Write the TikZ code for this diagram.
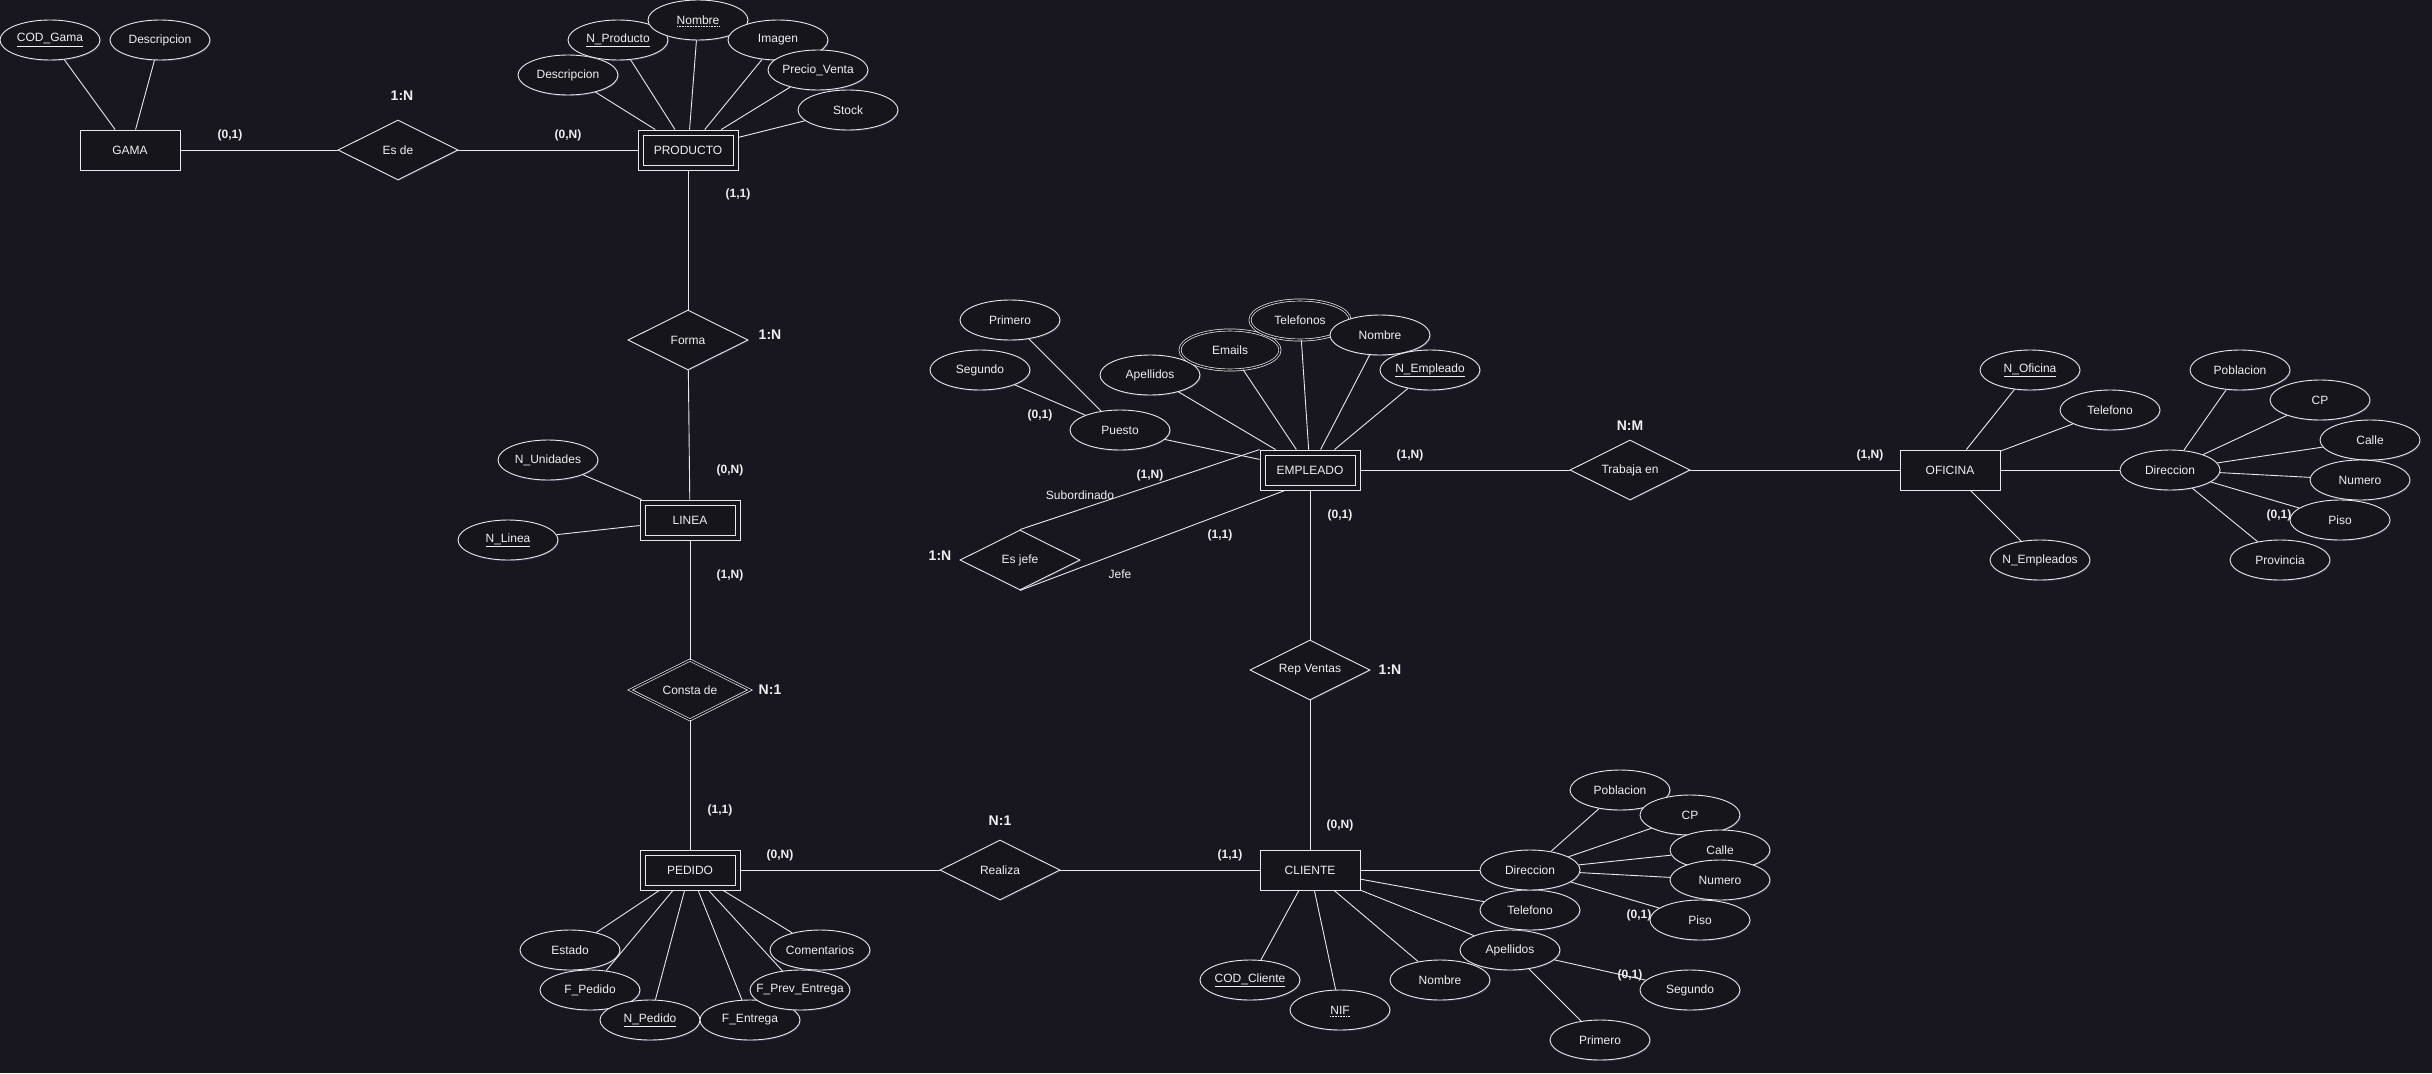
\documentclass[tikz,border=0pt]{standalone}
\usepackage{fontspec}
\setmainfont{Liberation Sans}
\usetikzlibrary{shapes.geometric,calc,shadows}
\definecolor{bgc}{RGB}{24,22,31}
\definecolor{fillc}{RGB}{22,21,27}
\definecolor{linec}{RGB}{232,232,236}
\definecolor{txtc}{RGB}{240,240,240}
\definecolor{glowc}{RGB}{80,76,120}
\newcommand{\mb}[1]{\makebox[0pt]{#1}}
\tikzset{
 base/.style={draw=linec, line width=0.9pt, fill=fillc, text=txtc, font=\fontsize{12}{14}\selectfont, inner sep=0pt,
   drop shadow={opacity=0.45, fill=glowc, shadow xshift=1pt, shadow yshift=-1.2pt}},
 ent/.style={base, rectangle, minimum width=100pt, minimum height=40pt},
 wkent/.style={ent, path picture={\draw[linec, line width=0.9pt] ([shift={(5pt,5pt)}]path picture bounding box.south west) rectangle ([shift={(-5pt,-5pt)}]path picture bounding box.north east);}},
 rel/.style={base, diamond, minimum width=120pt, minimum height=60pt, aspect=2},
 wkrel/.style={rel, double=fillc, double distance=1.4pt, line width=0.7pt},
 attr/.style={base, ellipse, minimum width=100pt, minimum height=40pt},
 mattr/.style={attr, double=fillc, double distance=1.4pt, line width=0.7pt},
 card/.style={text=txtc, font=\bfseries\fontsize{12}{14}\selectfont, inner sep=1pt},
 ratio/.style={text=txtc, font=\bfseries\fontsize{14}{16}\selectfont, inner sep=1pt},
 role/.style={text=txtc, font=\fontsize{12}{14}\selectfont, inner sep=1pt},
 con/.style={draw=linec, line width=0.9pt},
 dotu/.style={draw=txtc, line width=0.8pt, dash pattern=on 0.8pt off 0.8pt},
}
\begin{document}
\begin{tikzpicture}[x=1pt, y=-1pt]
\fill[bgc] (0,0) rectangle (2432,1073);
\useasboundingbox (0,0) rectangle (2432,1073);

% ---------- GAMA ----------
\node[ent] (gama) at (130,150) {GAMA};
\node[attr] (gcod) at (50,40) {\mb{\underline{COD\_Gama}}};
\node[attr] (gdesc) at (160,40) {\mb{Descripcion}};
\node[rel] (esde) at (398,150) {Es de};

% ---------- PRODUCTO ----------
\node[wkent] (producto) at (688,150) {PRODUCTO};
\node[attr] (pdesc) at (568,75) {\mb{Descripcion}};
\node[attr] (pnum) at (618,40) {\mb{\underline{N\_Producto}}};
\node[attr] (pnom) at (698,20) {\mb{Nombre}};
\draw[dotu] ([shift={(-21pt,-6.5pt)}]pnom.center) -- ([shift={(21pt,-6.5pt)}]pnom.center);
\node[attr] (pimg) at (778,40) {\mb{Imagen}};
\node[attr] (pprecio) at (818,70) {\mb{Precio\_Venta}};
\node[attr] (pstock) at (848,110) {\mb{Stock}};

% ---------- LINEA ----------
\node[rel] (forma) at (688,340) {Forma};
\node[wkent] (linea) at (690,520) {LINEA};
\node[attr] (lunid) at (548,460) {\mb{N\_Unidades}};
\node[attr] (lnum) at (508,540) {\mb{\underline{N\_Linea}}};
\node[wkrel] (consta) at (690,690) {Consta de};

% ---------- PEDIDO ----------
\node[wkent] (pedido) at (690,870) {PEDIDO};
\node[attr] (estado) at (570,950) {\mb{Estado}};
\node[attr] (fped) at (590,990) {\mb{F\_Pedido}};
\node[attr] (nped) at (650,1020) {\mb{\underline{N\_Pedido}}};
\node[attr] (fent) at (750,1020) {\mb{F\_Entrega}};
\node[attr] (fprev) at (800,990) {\mb{F\_Prev\_Entrega}};
\node[attr] (coment) at (820,950) {\mb{Comentarios}};
\node[rel] (realiza) at (1000,870) {Realiza};

% ---------- CLIENTE ----------
\node[ent] (cliente) at (1310,870) {CLIENTE};
\node[attr] (ccod) at (1250,980) {\mb{\underline{COD\_Cliente}}};
\node[attr] (cnif) at (1340,1010) {\mb{NIF}};
\draw[dotu] ([shift={(-10pt,-6.5pt)}]cnif.center) -- ([shift={(10pt,-6.5pt)}]cnif.center);
\node[attr] (cnom) at (1440,980) {\mb{Nombre}};
\node[attr] (cpri) at (1600,1040) {\mb{Primero}};
\node[attr] (cseg) at (1690,990) {\mb{Segundo}};
\node[attr] (cape) at (1510,950) {\mb{Apellidos}};
\node[attr] (ctel) at (1530,910) {\mb{Telefono}};
\node[attr] (cdir) at (1530,870) {\mb{Direccion}};
\node[attr] (cpob) at (1620,790) {\mb{Poblacion}};
\node[attr] (ccp) at (1690,815) {\mb{CP}};
\node[attr] (ccalle) at (1720,850) {\mb{Calle}};
\node[attr] (cnum) at (1720,880) {\mb{Numero}};
\node[attr] (cpiso) at (1700,920) {\mb{Piso}};
\node[rel] (repv) at (1310,670) {Rep Ventas};

% ---------- EMPLEADO ----------
\node[wkent] (empleado) at (1310,470) {EMPLEADO};
\node[attr] (epri) at (1010,320) {\mb{Primero}};
\node[attr] (eseg) at (980,370) {\mb{Segundo}};
\node[attr] (epuesto) at (1120,430) {\mb{Puesto}};
\node[attr] (eape) at (1150,375) {\mb{Apellidos}};
\node[mattr] (eemail) at (1230,350) {\mb{Emails}};
\node[mattr] (etel) at (1300,320) {\mb{Telefonos}};
\node[attr] (enom) at (1380,335) {\mb{Nombre}};
\node[attr] (enum) at (1430,370) {\mb{\underline{N\_Empleado}}};
\node[rel] (esjefe) at (1020,560) {Es jefe};
\node[rel] (trabaja) at (1630,470) {Trabaja en};

% ---------- OFICINA ----------
\node[ent] (oficina) at (1950,470) {OFICINA};
\node[attr] (onum) at (2030,370) {\mb{\underline{N\_Oficina}}};
\node[attr] (otel) at (2110,410) {\mb{Telefono}};
\node[attr] (oemp) at (2040,560) {\mb{N\_Empleados}};
\node[attr] (odir) at (2170,470) {\mb{Direccion}};
\node[attr] (opob) at (2240,370) {\mb{Poblacion}};
\node[attr] (ocp) at (2320,400) {\mb{CP}};
\node[attr] (ocalle) at (2370,440) {\mb{Calle}};
\node[attr] (onum2) at (2360,480) {\mb{Numero}};
\node[attr] (opiso) at (2340,520) {\mb{Piso}};
\node[attr] (oprov) at (2280,560) {\mb{Provincia}};

% ---------- connectors ----------
\foreach \a in {gcod,gdesc,esde} \draw[con] (gama) -- (\a);
\draw[con] (esde) -- (producto);
\foreach \a in {pdesc,pnum,pnom,pimg,pprecio,pstock,forma} \draw[con] (producto) -- (\a);
\draw[con] (forma) -- (linea);
\foreach \a in {lunid,lnum,consta} \draw[con] (linea) -- (\a);
\draw[con] (consta) -- (pedido);
\foreach \a in {estado,fped,nped,fent,fprev,coment,realiza} \draw[con] (pedido) -- (\a);
\draw[con] (realiza) -- (cliente);
\foreach \a in {ccod,cnif,cnom,cape,ctel,cdir,repv} \draw[con] (cliente) -- (\a);
\foreach \a in {cpob,ccp,ccalle,cnum,cpiso} \draw[con] (cdir) -- (\a);
\foreach \a in {cseg,cpri} \draw[con] (cape) -- (\a);
\draw[con] (repv) -- (empleado);
\foreach \a in {epuesto,eape,eemail,etel,enom,enum,trabaja} \draw[con] (empleado) -- (\a);
\foreach \a in {epri,eseg} \draw[con] (epuesto) -- (\a);
\draw[con] (esjefe.north) -- (empleado.north west);
\draw[con] (esjefe.south) -- ([xshift=-25pt]empleado.south);
\draw[con] (trabaja) -- (oficina);
\foreach \a in {onum,otel,oemp,odir} \draw[con] (oficina) -- (\a);
\foreach \a in {opob,ocp,ocalle,onum2,opiso,oprov} \draw[con] (odir) -- (\a);

% ---------- labels ----------
\node[ratio] (r1) at (402,96) {1:N};
\node[card] (k1) at (230,135) {(0,1)};
\node[card] (k2) at (568,135) {(0,N)};
\node[card] (k3) at (738,194) {(1,1)};
\node[ratio] (r2) at (770,335) {1:N};
\node[card] (k4) at (730,470) {(0,N)};
\node[card] (k5) at (730,575) {(1,N)};
\node[ratio] (r3) at (770,690) {N:1};
\node[card] (k6) at (720,810) {(1,1)};
\node[card] (k7) at (780,855) {(0,N)};
\node[ratio] (r4) at (1000,821) {N:1};
\node[card] (k8) at (1230,855) {(1,1)};
\node[card] (k9) at (1340,825) {(0,N)};
\node[ratio] (r5) at (1390,670) {1:N};
\node[card] (k10) at (1340,515) {(0,1)};
\node[card] (k11) at (1410,455) {(1,N)};
\node[ratio] (r6) at (1630,426) {N:M};
\node[card] (k12) at (1870,455) {(1,N)};
\node[card] (k13) at (2279,515) {(0,1)};
\node[card] (k14) at (1040,415) {(0,1)};
\node[card] (k15) at (1150,475) {(1,N)};
\node[role] (l1) at (1080,495) {Subordinado};
\node[ratio] (r7) at (940,556) {1:N};
\node[card] (k16) at (1220,535) {(1,1)};
\node[role] (l2) at (1120,574) {Jefe};
\node[card] (k17) at (1639,915) {(0,1)};
\node[card] (k18) at (1630,975) {(0,1)};
\end{tikzpicture}
\end{document}
